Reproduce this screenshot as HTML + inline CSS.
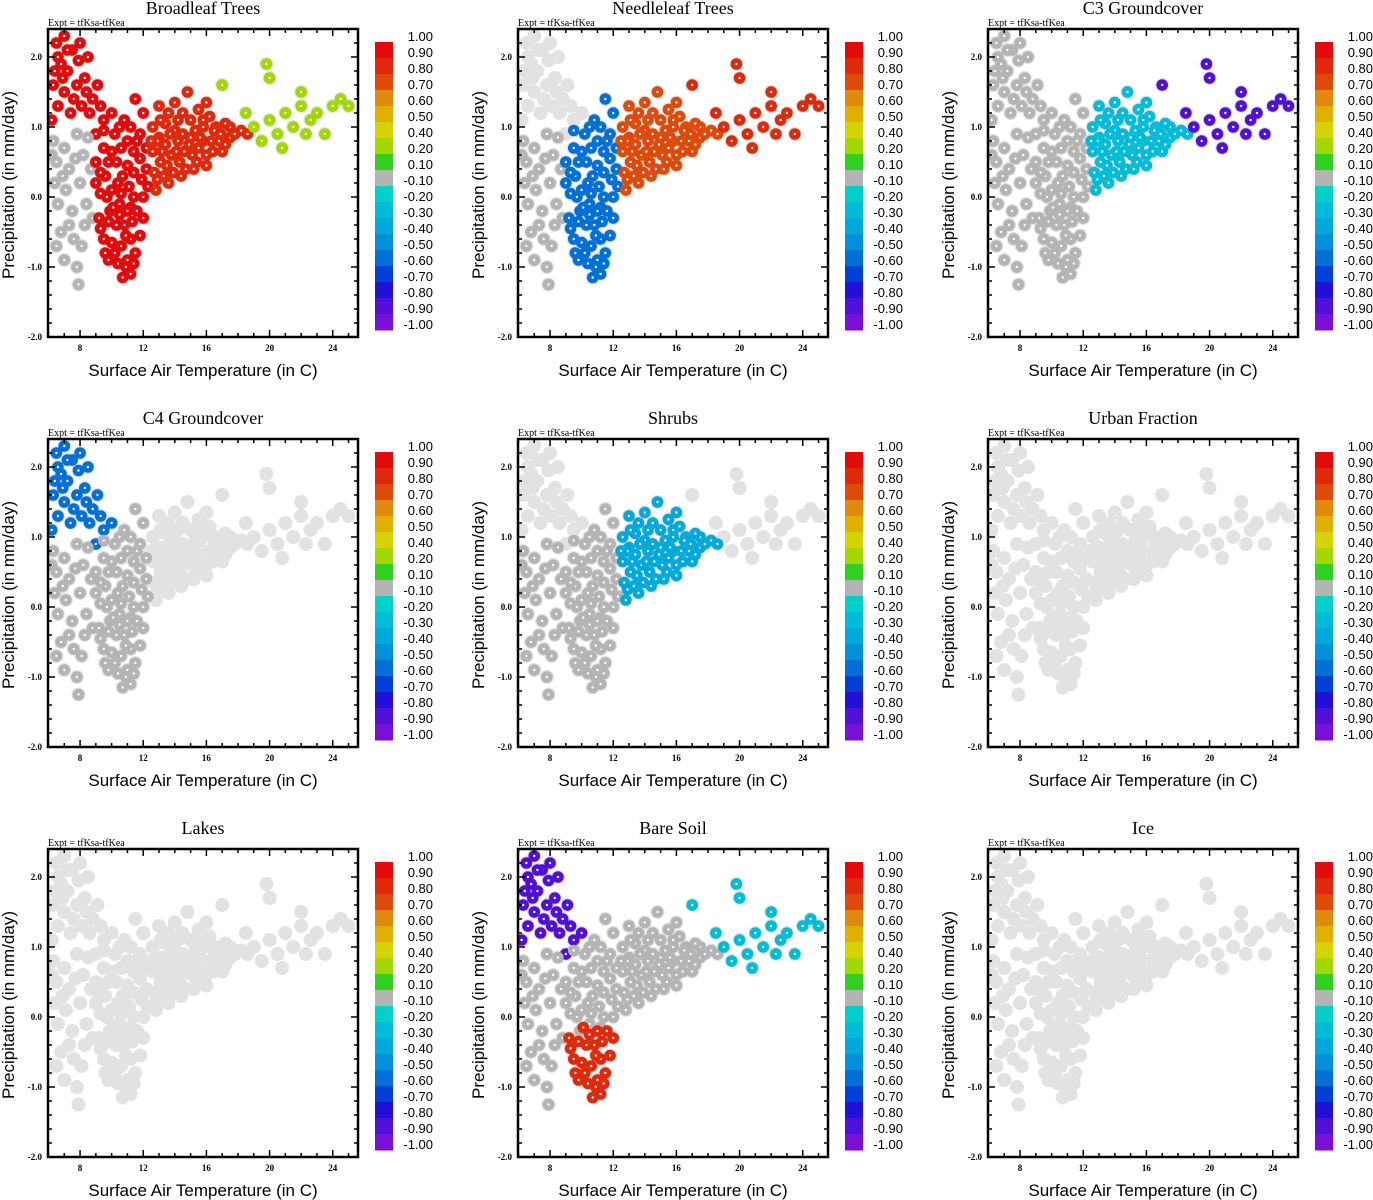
<!DOCTYPE html>
<html><head><meta charset="utf-8">
<style>
body{margin:0;background:#fff;width:1373px;height:1200px;overflow:hidden}
svg{display:block}
</style></head>
<body>
<svg id="chart" width="1373" height="1200" xmlns="http://www.w3.org/2000/svg"></svg>
<script>
// ---- data ----
const panelTitles = ["Broadleaf Trees","Needleleaf Trees","C3 Groundcover","C4 Groundcover","Shrubs","Urban Fraction","Lakes","Bare Soil","Ice"];
// base points: [temperature C, precipitation mm/day, region]
// regions: U upper-left arm, L left-mid, M low-T main body, N high-T main body, A lower arm, R right tail
const basePoints = [
[6.5,2.2,"U"],[7,2.3,"U"],[7.5,2.1,"U"],[6.8,1.9,"U"],[7.2,1.8,"U"],[8,2.2,"U"],[8.5,2.0,"U"],[6.3,1.6,"U"],[7,1.5,"U"],[7.8,1.6,"U"],[8.3,1.7,"U"],[6.6,1.3,"U"],[7.4,1.2,"U"],[8.1,1.3,"U"],[8.8,1.4,"U"],[6.2,1.1,"U"],[9.5,1.1,"U"],[9,0.9,"U"],[10,1.2,"U"],[6.6,2.0,"U"],[7.9,1.95,"U"],[9.1,1.6,"U"],
[7.2,2.1,"U"],[6.9,1.7,"U"],[7.6,1.4,"U"],[8.6,1.2,"U"],[9.3,1.3,"U"],[6.4,1.8,"U"],[8.4,1.5,"U"],
[6.3,0.8,"L"],[7,0.7,"L"],[7.8,0.9,"L"],[6.5,0.5,"L"],[7.3,0.4,"L"],[8.2,0.6,"L"],[6.4,0.2,"L"],[7.1,0.1,"L"],[8,0.2,"L"],[6.6,-0.1,"L"],[7.5,-0.2,"L"],[8.4,-0.1,"L"],[6.8,-0.5,"L"],[7.6,-0.6,"L"],[8.3,-0.4,"L"],[7,-0.9,"L"],[7.8,-1.0,"L"],[7.9,-1.25,"L"],[8.7,0.4,"L"],[8.8,-0.3,"L"],
[6.9,0.3,"L"],[7.7,0.55,"L"],[6.2,0.6,"L"],[8.5,0.85,"L"],[7.3,-0.4,"L"],[8.1,-0.7,"L"],[6.5,-0.7,"L"],
[9,0.5,"M"],[9,0.2,"M"],[9.5,0.7,"M"],[9.6,0.3,"M"],[9.7,0,"M"],[10.2,0.9,"M"],[10.3,0.5,"M"],[10.4,0.2,"M"],[10.5,-0.1,"M"],[11,0.8,"M"],[11,0.45,"M"],[11.1,0.15,"M"],[11.2,-0.15,"M"],[11.8,0.9,"M"],[11.8,0.55,"M"],[11.9,0.25,"M"],[12,0,"M"],[10.8,1.1,"M"],[11.5,1.4,"M"],[12,1.2,"M"],[10,0.65,"M"],[10.7,0.3,"M"],[11.4,0.65,"M"],[12.2,0.4,"M"],[9.9,-0.2,"M"],
[9.3,0.35,"M"],[9.3,0.05,"M"],[9.8,0.5,"M"],[10,0.1,"M"],[10.6,0.7,"M"],[10.6,0.05,"M"],[11.4,0.35,"M"],[11.4,0.0,"M"],[11.6,0.8,"M"],[12.2,0.7,"M"],[12.3,0.15,"M"],[9.5,0.95,"M"],[10.5,1.0,"M"],[11.2,1.0,"M"],
[12.6,1.0,"N"],[12.6,0.65,"N"],[12.7,0.35,"N"],[12.8,0.1,"N"],[13.4,1.05,"N"],[13.4,0.75,"N"],[13.5,0.45,"N"],[13.6,0.2,"N"],[14.2,1.1,"N"],[14.2,0.8,"N"],[14.3,0.5,"N"],[14.4,0.3,"N"],[15,1.1,"N"],[15,0.85,"N"],[15.1,0.6,"N"],[15.2,0.4,"N"],[15.8,1.0,"N"],[15.8,0.8,"N"],[16,0.6,"N"],[16.6,1.0,"N"],[16.8,0.8,"N"],[17.5,1.0,"N"],[17.5,0.85,"N"],[18.2,0.95,"N"],[13,1.3,"N"],[14,1.35,"N"],[15.5,1.25,"N"],[14.8,1.5,"N"],[13,0.85,"N"],[13.8,0.6,"N"],[14.6,0.65,"N"],[15.5,0.7,"N"],[16.3,0.8,"N"],[13.1,0.5,"N"],[14,0.95,"N"],[16.2,1.15,"N"],[17,0.65,"N"],
[12.9,0.25,"N"],[13.2,0.65,"N"],[13.3,0.3,"N"],[13.7,0.9,"N"],[13.9,0.35,"N"],[14.1,0.65,"N"],[14.5,0.9,"N"],[14.7,0.4,"N"],[14.9,0.75,"N"],[15.3,0.95,"N"],[15.4,0.5,"N"],[15.6,0.85,"N"],[16,0.45,"N"],[16.4,0.65,"N"],[16.5,0.95,"N"],[16.9,0.9,"N"],[17.2,1.05,"N"],[17.8,0.9,"N"],[12.9,0.8,"N"],[13.6,1.2,"N"],[14.5,1.2,"N"],[12.5,0.8,"N"],[13.1,1.1,"N"],[15.8,1.1,"N"],[17.2,0.75,"N"],[18.6,0.9,"N"],[16,1.35,"N"],
[9.2,-0.3,"A"],[9.8,-0.35,"A"],[10.3,-0.4,"A"],[10.8,-0.4,"A"],[11.3,-0.35,"A"],[9.5,-0.6,"A"],[10,-0.65,"A"],[10.6,-0.7,"A"],[11.2,-0.6,"A"],[9.8,-0.9,"A"],[10.4,-0.95,"A"],[11,-0.9,"A"],[11.5,-0.8,"A"],[11.2,-1.1,"A"],[10.7,-1.15,"A"],[12,-0.3,"A"],[11.8,-0.55,"A"],[10.1,-0.15,"A"],
[9.6,-0.8,"A"],[10.2,-0.8,"A"],[10.9,-0.55,"A"],[10.5,-0.25,"A"],[11.6,-0.2,"A"],[11,-0.2,"A"],[9.3,-0.45,"A"],[10.9,-1.0,"A"],[11.4,-0.95,"A"],
[19,1.0,"R"],[19.5,0.8,"R"],[20,1.1,"R"],[20.5,0.9,"R"],[21,1.2,"R"],[21.5,1.0,"R"],[22,1.3,"R"],[22.3,0.9,"R"],[22.6,1.1,"R"],[23,1.2,"R"],[23.5,0.9,"R"],[24,1.3,"R"],[25,1.3,"R"],[20,1.7,"R"],[19.8,1.9,"R"],[17,1.6,"R"],[18.5,1.2,"R"],[24.5,1.4,"R"],[22,1.5,"R"],[20.8,0.7,"R"]
];
const regionKeys = ["U","L","M","N","A","R"];
// correlation per region for each panel (null = masked / not plotted in colour)
const broadleafValues  = [0.95, 0.0, 0.95, 0.85, 0.95, 0.3];
const needleleafValues = [null, 0.0, -0.55, 0.75, -0.6, 0.85];
const c3Values         = [0.0, 0.0, 0.0, -0.25, 0.0, -0.85];
const c4Values         = [-0.6, 0.0, 0.0, null, 0.0, null];
const shrubValues      = [null, 0.0, 0.0, -0.4, 0.0, null];
const urbanValues      = [null, null, null, null, null, null];
const lakeValues       = [null, null, null, null, null, null];
const bareSoilValues   = [-0.85, 0.0, 0.0, 0.0, 0.85, -0.3];
const iceValues        = [null, null, null, null, null, null];
const panelValues = [broadleafValues,needleleafValues,c3Values,c4Values,shrubValues,urbanValues,lakeValues,bareSoilValues,iceValues];
const xTicks = [8,12,16,20,24];
const yTicks = [2.0,1.0,0.0,-1.0,-2.0];
const cbLabels = ["1.00","0.90","0.80","0.70","0.60","0.50","0.40","0.20","0.10","-0.10","-0.20","-0.30","-0.40","-0.50","-0.60","-0.70","-0.80","-0.90","-1.00"];
const cbBounds = [1.0,0.9,0.8,0.7,0.6,0.5,0.4,0.2,0.1,-0.1,-0.2,-0.3,-0.4,-0.5,-0.6,-0.7,-0.8,-0.9,-1.0];
const cbColors = ["#e20a0a","#e0280a","#dd4a0a","#df8a0a","#e0b000","#d4d400","#a0d800","#30d020","#b4b4b4","#00d0cc","#00bcd8","#00a8dc","#0090dc","#0070d8","#0040d8","#2010d8","#5010d8","#7a10d8"];

// ---- drawing ----
const NS="http://www.w3.org/2000/svg";
const svg=document.getElementById('chart');
function mk(tag,attrs,parent){const e=document.createElementNS(NS,tag);for(const k in attrs)e.setAttribute(k,attrs[k]);parent.appendChild(e);return e;}
const X0=48,X1=358,Y0=29,Y1=337,TMIN=5.97,TMAX=25.6,PMIN=-2.0,PMAX=2.4;
const xs=t=>X0+(t-TMIN)/(TMAX-TMIN)*(X1-X0);
const ys=p=>Y1-(p-PMIN)/(PMAX-PMIN)*(Y1-Y0);
function colorFor(v){for(let i=0;i<cbColors.length;i++){if(v>=cbBounds[i+1]||i===cbColors.length-1)return cbColors[i];}}

panelTitles.forEach((title,pi)=>{
  const ox=(pi%3)*470, oy=Math.floor(pi/3)*410;
  const g=mk('g',{transform:`translate(${ox},${oy})`},svg);
  
  
  const t=mk('text',{x:203,y:14,'text-anchor':'middle','font-family':'Liberation Serif, serif','font-size':18},g);
  t.textContent=title;
  
  
  const ex=mk('text',{x:48,y:26,'font-family':'Liberation Serif, serif','font-size':10},g);
  ex.textContent='Expt = tfKsa-tfKea';
  
  
  const clip=mk('clipPath',{id:'c'+pi},g);mk('rect',{x:X0,y:Y0,width:X1-X0,height:Y1-Y0},clip);
  const pts=mk('g',{'clip-path':`url(#c${pi})`},g);
  
  
  basePoints.forEach(p=>{const c=mk('circle',{cx:xs(p[0]),cy:ys(p[1]),r:7,fill:'#e2e2e2'},pts);
    
    });
  const vals=panelValues[pi];
  basePoints.forEach(p=>{const v=vals[regionKeys.indexOf(p[2])];if(v===null)return;
    const col=Math.abs(v)<0.1?'#b4b4b4':colorFor(v);
    const c=mk('circle',{cx:xs(p[0]),cy:ys(p[1]),r:5.8,fill:col},pts);
    
    
    mk('circle',{cx:xs(p[0]),cy:ys(p[1]),r:1.2,fill:'#fff'},pts);});
  // frame
  const fr=mk('rect',{x:X0,y:Y0,width:X1-X0,height:Y1-Y0,fill:'none',stroke:'#000','stroke-width':2.5},g);
  
  
  for(let tt=6;tt<=25;tt++){const x=xs(tt),L=tt%4===0?7:4;
    mk('line',{x1:x,x2:x,y1:Y1,y2:Y1-L,stroke:'#000','stroke-width':1.5},g);
    mk('line',{x1:x,x2:x,y1:Y0,y2:Y0+L,stroke:'#000','stroke-width':1.5},g);}
  for(let k=-10;k<=12;k++){const p=k/5,y=ys(p),L=k%5===0?7:4;
    mk('line',{x1:X0,x2:X0+L,y1:y,y2:y,stroke:'#000','stroke-width':1.5},g);
    mk('line',{x1:X1,x2:X1-L,y1:y,y2:y,stroke:'#000','stroke-width':1.5},g);}
  xTicks.forEach(v=>{const e=mk('text',{x:xs(v),y:351,'text-anchor':'middle','font-family':'Liberation Serif, serif','font-size':9,'font-weight':'bold'},g);e.textContent=v;
    
    });
  yTicks.forEach(v=>{const e=mk('text',{x:42,y:ys(v)+3,'text-anchor':'end','font-family':'Liberation Serif, serif','font-size':9,'font-weight':'bold'},g);e.textContent=v.toFixed(1);
    
    });
  const xl=mk('text',{x:203,y:376,'text-anchor':'middle','font-family':'Liberation Sans, sans-serif','font-size':17},g);
  xl.textContent='Surface Air Temperature (in C)';
  
  
  const yl=mk('text',{x:0,y:0,transform:'translate(14,185) rotate(-90)','text-anchor':'middle','font-family':'Liberation Sans, sans-serif','font-size':17},g);
  yl.textContent='Precipitation (in mm/day)';
  
  
  // colorbar
  const cb=mk('g',{},g);
  
  
  cbColors.forEach((c,i)=>{mk('rect',{x:375,y:42+i*16,width:18,height:16.5,fill:c},cb);});
  cbLabels.forEach((l,i)=>{const e=mk('text',{x:433,y:41+i*16,'text-anchor':'end','font-family':'Liberation Sans, sans-serif','font-size':13},cb);e.textContent=l;
    
    });
});
</script>
</body></html>
